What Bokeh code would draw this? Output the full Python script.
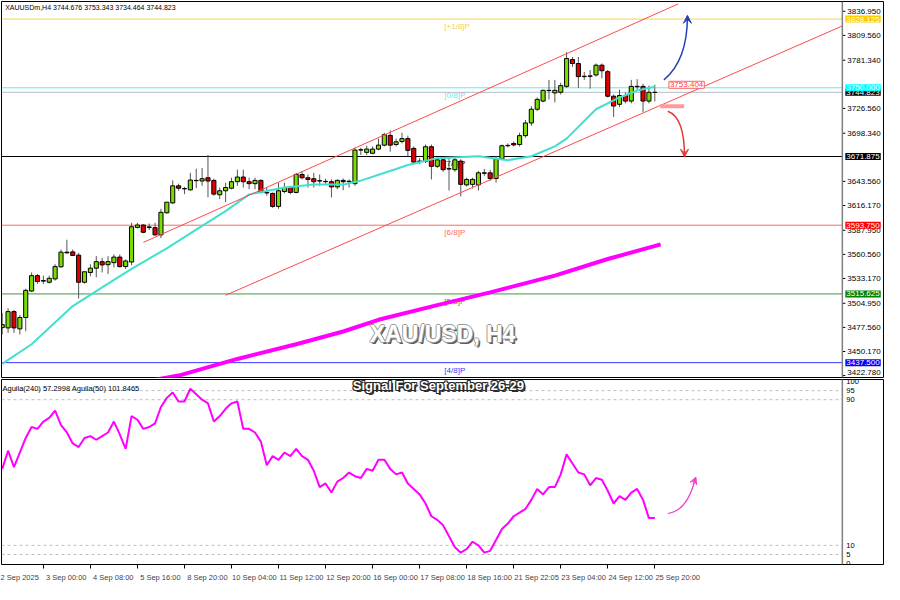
from bokeh.plotting import figure
from bokeh.models import Range1d, FixedTicker, Label, Arrow, VeeHead, ColumnDataSource, Span
from bokeh.layouts import column
from bokeh.embed import file_html
from bokeh.resources import INLINE
from bokeh.core.properties import value

FONT = "Liberation Sans"

# ---------------- data ----------------
bar_open = [3477.3, 3477.0, 3495.5, 3475.9, 3488.8, 3518.9, 3536.4, 3530.8, 3528.9, 3532.7,
            3546.4, 3563.1, 3563.4, 3559.7, 3528.9, 3540.0, 3544.9, 3552.3, 3548.9, 3551.2,
            3557.5, 3546.7, 3551.9, 3591.2, 3593.9, 3591.2, 3590.9, 3582.8, 3607.9, 3619.1,
            3638.5, 3635.4, 3634.0, 3644.7, 3644.0, 3647.7, 3644.7, 3628.4, 3632.9, 3635.8,
            3643.2, 3648.5, 3643.2, 3641.0, 3644.7, 3631.0, 3629.9, 3615.1, 3632.1, 3636.6,
            3631.0, 3651.4, 3647.7, 3646.6, 3644.0, 3643.2, 3643.2, 3637.3, 3644.7, 3643.2,
            3641.0, 3679.2, 3676.6, 3675.5, 3680.3, 3684.8, 3695.9, 3685.5, 3688.9, 3692.2,
            3681.1, 3666.6, 3666.3, 3683.0, 3660.7, 3668.1, 3658.0, 3656.9, 3666.6, 3639.6,
            3640.2, 3639.6, 3653.3, 3653.3, 3646.9, 3669.2, 3684.1, 3686.7, 3685.5, 3695.6,
            3710.0, 3725.6, 3734.9, 3747.1, 3744.2, 3744.9, 3751.6, 3782.1, 3777.6, 3762.7,
            3763.5, 3764.6, 3775.7, 3768.3, 3740.4, 3731.2, 3741.2, 3734.9, 3751.6, 3751.6,
            3734.9, 3744.676]
bar_high = [3494.0, 3499.3, 3497.4, 3491.8, 3521.5, 3540.0, 3538.2, 3536.4, 3536.4, 3549.4,
            3566.1, 3577.2, 3566.1, 3562.3, 3532.7, 3549.4, 3558.6, 3556.7, 3558.6, 3560.5,
            3560.5, 3554.9, 3596.5, 3596.5, 3595.0, 3595.7, 3596.5, 3612.4, 3613.5, 3644.7,
            3641.0, 3637.3, 3653.3, 3658.0, 3658.8, 3673.6, 3646.6, 3636.6, 3642.1, 3647.7,
            3656.9, 3656.9, 3647.7, 3647.7, 3645.8, 3636.6, 3631.0, 3642.1, 3642.1, 3638.5,
            3653.3, 3655.1, 3651.4, 3653.3, 3651.4, 3646.6, 3645.8, 3645.8, 3646.9, 3645.8,
            3681.9, 3681.9, 3684.1, 3683.3, 3692.2, 3698.9, 3701.5, 3692.2, 3698.9, 3695.6,
            3683.3, 3670.0, 3685.5, 3685.5, 3671.1, 3670.0, 3670.0, 3671.1, 3668.8, 3647.7,
            3647.7, 3655.5, 3657.7, 3656.6, 3672.2, 3685.5, 3686.7, 3688.9, 3698.9, 3713.4,
            3729.0, 3739.0, 3747.9, 3759.0, 3759.0, 3755.7, 3790.5, 3785.0, 3785.0, 3767.9,
            3770.2, 3777.6, 3777.6, 3770.2, 3742.3, 3747.9, 3744.6, 3759.0, 3759.8, 3754.6,
            3752.4, 3753.343]
bar_low = [3469.5, 3471.4, 3471.4, 3469.5, 3473.2, 3517.8, 3527.1, 3527.1, 3527.4, 3530.8,
           3545.6, 3561.6, 3558.6, 3510.4, 3527.4, 3535.6, 3534.5, 3540.0, 3538.2, 3545.6,
           3545.6, 3543.8, 3548.3, 3590.1, 3584.6, 3588.3, 3581.7, 3579.0, 3606.8, 3618.0,
           3632.9, 3629.1, 3632.9, 3635.8, 3638.5, 3625.4, 3627.3, 3623.5, 3619.9, 3634.7,
           3638.5, 3636.6, 3634.7, 3634.7, 3629.9, 3627.3, 3613.5, 3612.4, 3629.9, 3629.1,
           3629.9, 3645.8, 3636.6, 3636.6, 3638.5, 3641.0, 3625.4, 3634.7, 3633.5, 3636.6,
           3638.5, 3673.6, 3673.6, 3674.4, 3678.9, 3683.3, 3677.4, 3683.3, 3686.7, 3672.2,
           3663.3, 3663.3, 3664.4, 3645.8, 3658.8, 3654.4, 3633.2, 3654.4, 3626.5, 3637.7,
           3635.4, 3633.2, 3649.9, 3644.4, 3642.1, 3667.7, 3682.2, 3683.3, 3683.3, 3693.3,
           3706.7, 3723.4, 3733.4, 3736.8, 3733.4, 3742.3, 3749.8, 3773.8, 3749.8, 3759.0,
           3749.0, 3762.7, 3760.9, 3739.0, 3716.7, 3727.9, 3732.3, 3732.3, 3747.9, 3722.3,
           3732.3, 3734.464]
bar_close = [3480.7, 3495.5, 3477.0, 3488.8, 3519.7, 3536.4, 3529.7, 3530.2, 3533.4, 3546.7,
             3563.1, 3562.3, 3559.4, 3528.9, 3540.8, 3544.9, 3552.3, 3548.6, 3552.3, 3557.5,
             3546.7, 3553.1, 3592.0, 3593.9, 3585.7, 3591.8, 3582.8, 3608.4, 3619.9, 3638.5,
             3635.8, 3635.1, 3645.1, 3644.4, 3646.6, 3644.0, 3629.1, 3632.9, 3636.6, 3643.2,
             3648.5, 3643.2, 3641.0, 3644.7, 3631.0, 3630.4, 3615.1, 3632.9, 3636.6, 3631.0,
             3651.4, 3647.7, 3645.8, 3643.2, 3644.4, 3643.6, 3637.3, 3644.7, 3643.2, 3643.8,
             3679.2, 3679.6, 3680.3, 3680.3, 3684.8, 3696.7, 3684.8, 3688.6, 3692.2, 3678.9,
             3665.5, 3666.3, 3683.0, 3660.7, 3668.1, 3656.9, 3657.7, 3668.1, 3640.2, 3645.8,
             3645.8, 3653.3, 3652.9, 3646.9, 3669.2, 3684.1, 3684.5, 3685.0, 3695.6, 3710.0,
             3725.6, 3736.8, 3747.1, 3746.8, 3747.1, 3752.4, 3783.2, 3777.6, 3762.7, 3763.1,
             3763.1, 3775.7, 3769.4, 3740.4, 3729.3, 3741.2, 3734.9, 3751.6, 3751.2, 3734.9,
             3744.9, 3744.823]

ma20_bar = [0, 5, 12, 17, 22, 28, 33, 38, 42, 48, 53, 58, 61, 67, 69, 74, 81, 86, 90, 94, 96, 101, 105, 108, 111]
ma20_val = [3436.1, 3458.4, 3501.8, 3523.0, 3544.1, 3567.5, 3588.7, 3609.8, 3628.8, 3636.6, 3639.9, 3639.9,
            3644.4, 3657.7, 3662.2, 3670.0, 3672.2, 3667.7, 3672.2, 3683.3, 3692.2, 3725.6, 3739.0, 3746.8, 3751.2]

ma200_bar = [26, 30, 40, 50, 58, 64, 74, 83, 94, 103, 112]
ma200_val = [3418.0, 3422.8, 3441.7, 3458.4, 3472.9, 3486.2, 3502.9, 3517.4, 3536.4, 3555.3, 3572.0]

channel_x0 = [24, 38]
channel_y0 = [3574.2, 3514.1]
channel_x1 = [115, 142.9]
channel_y1 = [3845.4, 3820.3]

level_prices = [3828.125, 3750.000, 3671.875, 3593.750, 3515.625, 3437.500]
level_names = ["[+1/8]P", "[0/8]P", "[7/8]P", "[6/8]P", "[5/8]P", "[4/8]P"]
level_line_colors = ["#F7D24A", "#5CEFEF", "#000000", "#FF6A6A", "#3C9B3C", "#3A3AFF"]
level_box_colors = ["#FFCC00", "#00FFFF", "#000000", "#FF0000", "#008000", "#0000FF"]

bid_price = 3744.823
ask_mark = 3753.404
support_mark = 3729.0

price_ticks = [3836.950, 3809.560, 3781.340, 3726.560, 3698.340, 3643.560, 3616.170, 3587.950,
               3560.560, 3533.170, 3504.950, 3477.560, 3450.170, 3422.780]

x_tick_bars = [-1, 7, 15, 23, 31, 39, 47, 55, 63, 71, 79, 87, 95, 103, 111]
x_tick_labels = ["2 Sep 2025", "3 Sep 00:00", "4 Sep 08:00", "5 Sep 16:00", "8 Sep 20:00",
                 "10 Sep 04:00", "11 Sep 12:00", "12 Sep 20:00", "16 Sep 00:00", "17 Sep 08:00",
                 "18 Sep 16:00", "21 Sep 22:05", "23 Sep 04:00", "24 Sep 12:00", "25 Sep 20:00"]

ind_vals = [52, 62, 53, 61, 69, 75, 74, 78, 80, 84, 76, 72, 66, 64, 69, 70, 68, 70, 72, 78,
            71, 63, 81, 79, 74, 75, 77, 86, 91, 94, 89, 89, 96, 93, 90, 88, 78, 81, 85, 88,
            89, 74, 74, 72, 67, 54, 59, 57, 61, 59, 63, 59, 57, 51, 42, 44, 39, 45, 47, 50,
            48, 47, 52, 51, 57, 57, 52, 49, 50, 44, 41, 38, 33, 26, 24, 21, 15, 9, 6, 8,
            12, 10, 6, 7, 13, 19, 22, 26, 28, 30, 35, 41, 38, 42, 42, 49, 60, 55, 50, 49,
            43, 47, 46, 40, 33, 37, 35, 39, 41, 35, 25, 25]
ind_levels = [95, 90, 10, 5]
ind_ticks = [0, 5, 10, 90, 95, 100]

up_arrow = dict(x0=112.55, y0=3759.0, cx=116.55, cy=3781.3, x1=116.55, y1=3831.4)
down_arrow = dict(x0=113.2, y0=3723.4, cx=116.05, cy=3716.7, x1=116.05, y1=3672.2)
ind_arrow = dict(x0=113.2, y0=27.5, cx=116.6, cy=29.0, x1=117.9, y1=47.0)

# ---------------- layout constants ----------------
X_START = -0.12      # left edge of chart
X_END = 142.9        # chart border / price scale line
X_RIGHT = 149.9      # right edge of the window (price-scale area)

n = len(bar_close)
bars = list(range(n))
BULL = "#7CDB00"
BEAR = "#E00000"
src = ColumnDataSource(dict(
    x=bars, o=bar_open, h=bar_high, l=bar_low, c=bar_close,
    top=[max(o, c) for o, c in zip(bar_open, bar_close)],
    bottom=[min(o, c) for o, c in zip(bar_open, bar_close)],
    color=[BULL if c >= o else BEAR for o, c in zip(bar_open, bar_close)],
))

# ---------------- main price panel ----------------
p1 = figure(width=884, height=378, x_range=Range1d(X_START, X_RIGHT), y_range=Range1d(3420.6, 3848.1),
            output_backend="svg", toolbar_location=None, x_axis_location=None, y_axis_location=None,
            min_border_left=1, min_border_right=1, min_border_top=1, min_border_bottom=1)
p1.grid.visible = False
p1.outline_line_color = "#000000"
p1.background_fill_color = "white"
p1.border_fill_color = "white"

# price scale (drawn with the figure's scales)
p1.add_layout(Span(location=X_END, dimension="height", line_color="#7F7F7F", line_width=1.5))
p1.ray(x=[X_END] * len(price_ticks), y=price_ticks, length=3, length_units="screen", angle=0,
       line_color="#000000", line_width=1)
tick_shift = [0] * (len(price_ticks) - 1) + [-3]
p1.text(x=[X_END] * len(price_ticks), y=price_ticks, text=[f"{t:.3f}" for t in price_ticks],
        x_offset=5, y_offset=tick_shift, text_baseline="middle", text_align="left", text_font=value(FONT),
        text_font_size="8px", text_color="#000000")

# horizontal Murrey levels
nl = len(level_prices)
p1.segment(x0=[X_START] * nl, y0=level_prices, x1=[X_END] * nl, y1=level_prices,
           line_color=level_line_colors, line_width=1)
p1.segment(x0=[X_START], y0=[bid_price], x1=[X_END], y1=[bid_price], line_color="#B8BCC8", line_width=1)
p1.text(x=[75.2] * nl, y=level_prices, text=level_names, text_color=level_line_colors,
        text_font=value(FONT), text_font_size="8px", text_baseline="top", text_align="left", y_offset=3)

# 200 MA (magenta)
p1.line(ma200_bar, ma200_val, line_color="#FF00FF", line_width=4)

# candles
p1.segment(x0="x", y0="l", x1="x", y1="h", source=src, line_color="#555555", line_width=1)
p1.vbar(x="x", width=0.7, top="top", bottom="bottom", fill_color="color", line_color="#000000",
        line_width=1, source=src)

# 20 MA (turquoise)
p1.line(ma20_bar, ma20_val, line_color="#3FE0D0", line_width=2)

# channel lines
p1.segment(x0=channel_x0, y0=channel_y0, x1=channel_x1, y1=channel_y1, line_color="#FF4A4A", line_width=1)

# support mark
p1.segment(x0=[111.9], y0=[support_mark], x1=[116.0], y1=[support_mark], line_color="#FF9A9A", line_width=4)

# curved arrows
p1.quadratic(x0=[up_arrow["x0"]], y0=[up_arrow["y0"]], x1=[up_arrow["x1"]], y1=[up_arrow["y1"]],
             cx=[up_arrow["cx"]], cy=[up_arrow["cy"]], line_color="#2244BB", line_width=1.5)
p1.add_layout(Arrow(end=VeeHead(size=8, line_color="#2244BB", fill_color="#2244BB"),
                    x_start=up_arrow["x1"], y_start=up_arrow["y1"] - 6, x_end=up_arrow["x1"], y_end=up_arrow["y1"] + 1,
                    line_color="#2244BB", line_width=1.5))
p1.quadratic(x0=[down_arrow["x0"]], y0=[down_arrow["y0"]], x1=[down_arrow["x1"]], y1=[down_arrow["y1"]],
             cx=[down_arrow["cx"]], cy=[down_arrow["cy"]], line_color="#E83A3A", line_width=1.5)
p1.add_layout(Arrow(end=VeeHead(size=8, line_color="#E83A3A", fill_color="#E83A3A"),
                    x_start=down_arrow["x1"], y_start=down_arrow["y1"] + 6, x_end=down_arrow["x1"], y_end=down_arrow["y1"] - 1,
                    line_color="#E83A3A", line_width=1.5))

# ask price box
p1.add_layout(Label(x=113.4, y=ask_mark, text=f"{ask_mark:.3f}", text_font=FONT, text_font_size="8px",
                    text_color="#FF4040", text_baseline="middle", text_align="left",
                    background_fill_color="white", border_line_color="#FF6060", padding=1))

# header text
hdr = f"XAUUSDm,H4  {bar_open[-1]:.3f} {bar_high[-1]:.3f} {bar_low[-1]:.3f} {bar_close[-1]:.3f}"
p1.add_layout(Label(x=0.5, y=3841.5, text=hdr, text_font=FONT, text_font_size="7px",
                    text_color="#000000", text_baseline="middle", text_align="left"))

# watermark
wm = "XAU/USD, H4"
for dx, dy, col in [(2, -2, "#606060"), (-1, 0, "#9A9A9A"), (1, 0, "#9A9A9A"), (0, 1, "#9A9A9A"), (0, -1, "#9A9A9A")]:
    p1.add_layout(Label(x=74.9, y=3469.5, text=wm, x_offset=dx, y_offset=dy, text_font=FONT,
                        text_font_size="23px", text_font_style="bold", text_color=col,
                        text_align="center", text_baseline="middle"))
p1.add_layout(Label(x=74.9, y=3469.5, text=wm, text_font=FONT, text_font_size="23px",
                    text_font_style="bold", text_color="white", text_align="center", text_baseline="middle"))

# coloured price tags on the price scale
tag_vals = [level_prices[0], bid_price, level_prices[1], level_prices[2], level_prices[3], level_prices[4], level_prices[5]]
tag_cols = [level_box_colors[0], "#000000", level_box_colors[1], level_box_colors[2], level_box_colors[3],
            level_box_colors[4], level_box_colors[5]]
for tv, tc in zip(tag_vals, tag_cols):
    p1.add_layout(Label(x=X_END, y=tv, x_offset=3, text=f"{tv:.3f}", text_font=FONT, text_font_size="8px",
                        text_color="white", text_baseline="middle", text_align="left",
                        background_fill_color=tc, padding=1))

# ---------------- indicator panel ----------------
p2 = figure(width=884, height=206, x_range=p1.x_range, y_range=Range1d(-0.5, 101.1),
            output_backend="svg", toolbar_location=None, y_axis_location=None,
            min_border_left=1, min_border_right=1, min_border_top=1, min_border_bottom=19)
p2.grid.visible = False
p2.outline_line_color = "#000000"
p2.background_fill_color = "white"
p2.border_fill_color = "white"

p2.add_layout(Span(location=X_END, dimension="height", line_color="#7F7F7F", line_width=1.5))
ni = len(ind_levels)
p2.segment(x0=[X_START] * ni, y0=ind_levels, x1=[X_END] * ni, y1=ind_levels,
           line_color="#BDBDBD", line_width=1, line_dash="3 3")

p2.line(bars, ind_vals, line_color="#FF00FF", line_width=2)

p2.quadratic(x0=[ind_arrow["x0"]], y0=[ind_arrow["y0"]], x1=[ind_arrow["x1"]], y1=[ind_arrow["y1"]],
             cx=[ind_arrow["cx"]], cy=[ind_arrow["cy"]], line_color="#F040C8", line_width=1.2)
p2.add_layout(Arrow(end=VeeHead(size=7, line_color="#F040C8", fill_color="#F040C8"),
                    x_start=ind_arrow["x1"] - 0.4, y_start=ind_arrow["y1"] - 3.5,
                    x_end=ind_arrow["x1"] + 0.1, y_end=ind_arrow["y1"] + 0.5,
                    line_color="#F040C8", line_width=1.2))

# indicator scale
p2.text(x=[X_END] * len(ind_ticks), y=ind_ticks, text=[str(t) for t in ind_ticks], x_offset=4,
        text_baseline="middle", text_align="left", text_font=value(FONT), text_font_size="7.5px",
        text_color="#000000")

xa = p2.xaxis[0]
centers = [b + 3.9 for b in x_tick_bars]
xa.ticker = FixedTicker(ticks=centers, minor_ticks=x_tick_bars)
xa.major_label_overrides = {c: t for c, t in zip(centers, x_tick_labels)}
xa.major_label_text_font = FONT
xa.major_label_text_font_size = "7.5px"
xa.major_tick_line_color = None
xa.major_tick_out = 0
xa.minor_tick_out = 4
xa.minor_tick_in = 0
xa.minor_tick_line_color = "#000000"
xa.axis_line_color = None
xa.major_label_standoff = 4

p2.add_layout(Label(x=X_START, y=96.3, x_offset=1, text="Aguila(240) 57.2998   Aguila(50) 101.8465",
                    text_font=FONT, text_font_size="7.5px", text_color="#000000",
                    text_baseline="middle", text_align="left"))

sig = "Signal For September 26-29"
for dx, dy in [(-1, 0), (1, 0), (0, 1), (0, -1), (1, 1), (-1, -1), (1, -1), (-1, 1), (2, -2)]:
    p2.add_layout(Label(x=74.2, y=97.6, text=sig, x_offset=dx, y_offset=dy, text_font=FONT,
                        text_font_size="13px", text_font_style="bold", text_color="#2A2A2A",
                        text_align="center", text_baseline="middle"))
p2.add_layout(Label(x=74.2, y=97.6, text=sig, text_font=FONT, text_font_size="13px",
                    text_font_style="bold", text_color="white", text_align="center", text_baseline="middle"))

layout = column(p1, p2, spacing=0)
open("out.html", "w").write(file_html(layout, INLINE))
